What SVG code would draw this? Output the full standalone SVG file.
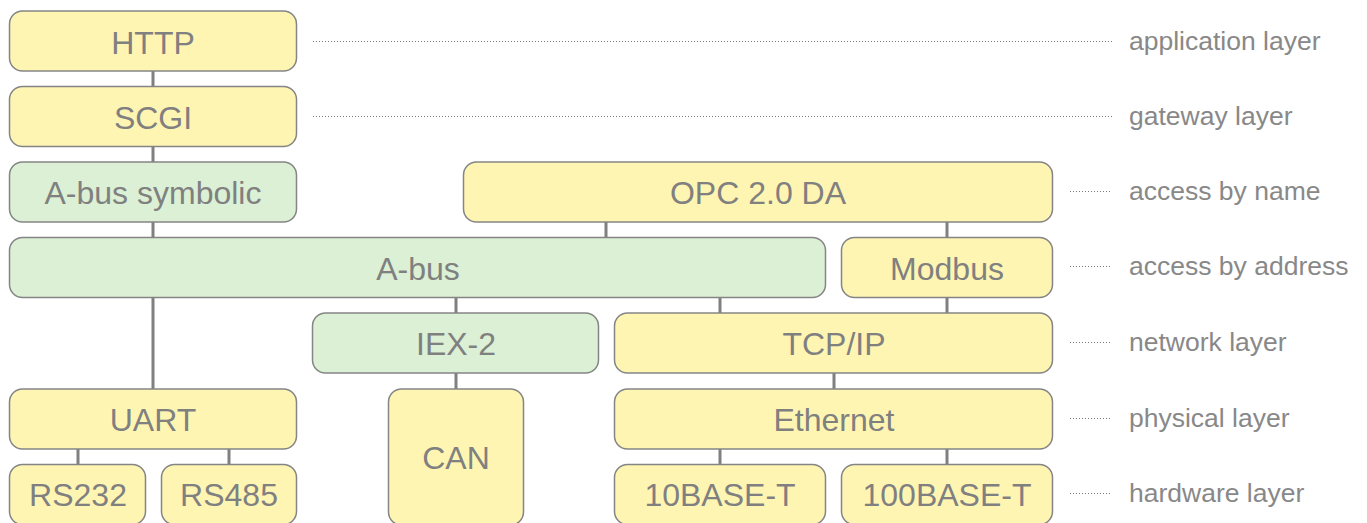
<svg xmlns="http://www.w3.org/2000/svg" width="1367" height="523" viewBox="0 0 1367 523">
<style>
.y{fill:#fff5b3;stroke:#858585;stroke-width:1.5}
.g{fill:#dbf0d4;stroke:#858585;stroke-width:1.5}
.t{font-family:"Liberation Sans",Arial,sans-serif;font-size:32px;fill:#808080;text-anchor:middle;dominant-baseline:central}
.l{font-family:"Liberation Sans",Arial,sans-serif;font-size:26.5px;fill:#888888;dominant-baseline:central}
.c{stroke:#808080;stroke-width:3;fill:none}
.d{stroke:#7a7a7a;stroke-width:1;stroke-dasharray:1 2;fill:none}
</style>
<rect width="1367" height="523" fill="#ffffff"/>
<g id="connectors">
<path class="c" d="M153 71V86M153 146V162M153 222V237M606 222V237M947 222V237M153 297V389M456 297V313M720 297V313M947 297V313M456 373V389M834 373V389M78 449V464M229 449V464M720 449V464M947 449V464"/>
</g>
<g id="guides">
<path class="d" d="M313 41.5H1112M313 116.5H1112M1070 191.5H1112M1070 266.5H1112M1070 342.5H1112M1070 418.5H1112M1070 493.5H1112"/>
<text class="l" x="1129" y="41">application layer</text>
<text class="l" x="1129" y="116">gateway layer</text>
<text class="l" x="1129" y="191">access by name</text>
<text class="l" x="1129" y="266">access by address</text>
<text class="l" x="1129" y="342">network layer</text>
<text class="l" x="1129" y="418">physical layer</text>
<text class="l" x="1129" y="493">hardware layer</text>
</g>
<g id="http"><rect class="y" x="9.5" y="11" width="287" height="60" rx="13"/><text class="t" x="153" y="43">HTTP</text></g>
<g id="scgi"><rect class="y" x="9.5" y="86.5" width="287" height="60" rx="13"/><text class="t" x="153" y="118">SCGI</text></g>
<g id="abus-symbolic"><rect class="g" x="9.5" y="162" width="287" height="60" rx="13"/><text class="t" x="153" y="193">A-bus symbolic</text></g>
<g id="opc"><rect class="y" x="463.5" y="162" width="589" height="60" rx="13"/><text class="t" x="758" y="193">OPC 2.0 DA</text></g>
<g id="abus"><rect class="g" x="9.5" y="237.5" width="816" height="60" rx="13"/><text class="t" x="418" y="269">A-bus</text></g>
<g id="modbus"><rect class="y" x="841.5" y="237.5" width="211" height="60" rx="13"/><text class="t" x="947" y="269">Modbus</text></g>
<g id="iex2"><rect class="g" x="312.5" y="313" width="286" height="60" rx="13"/><text class="t" x="456" y="344">IEX-2</text></g>
<g id="tcpip"><rect class="y" x="614.5" y="313" width="438" height="60" rx="13"/><text class="t" x="834" y="344">TCP/IP</text></g>
<g id="uart"><rect class="y" x="9.5" y="389" width="287" height="60" rx="13"/><text class="t" x="153" y="420">UART</text></g>
<g id="can"><rect class="y" x="388.5" y="389" width="135" height="136" rx="13"/><text class="t" x="456" y="458">CAN</text></g>
<g id="ethernet"><rect class="y" x="614.5" y="389" width="438" height="60" rx="13"/><text class="t" x="834" y="420">Ethernet</text></g>
<g id="rs232"><rect class="y" x="9.5" y="464.5" width="136" height="60" rx="13"/><text class="t" x="78" y="495">RS232</text></g>
<g id="rs485"><rect class="y" x="161.5" y="464.5" width="135" height="60" rx="13"/><text class="t" x="229" y="495">RS485</text></g>
<g id="10baset"><rect class="y" x="614.5" y="464.5" width="211" height="60" rx="13"/><text class="t" x="720" y="495">10BASE-T</text></g>
<g id="100baset"><rect class="y" x="841.5" y="464.5" width="211" height="60" rx="13"/><text class="t" x="947" y="495">100BASE-T</text></g>
</svg>
